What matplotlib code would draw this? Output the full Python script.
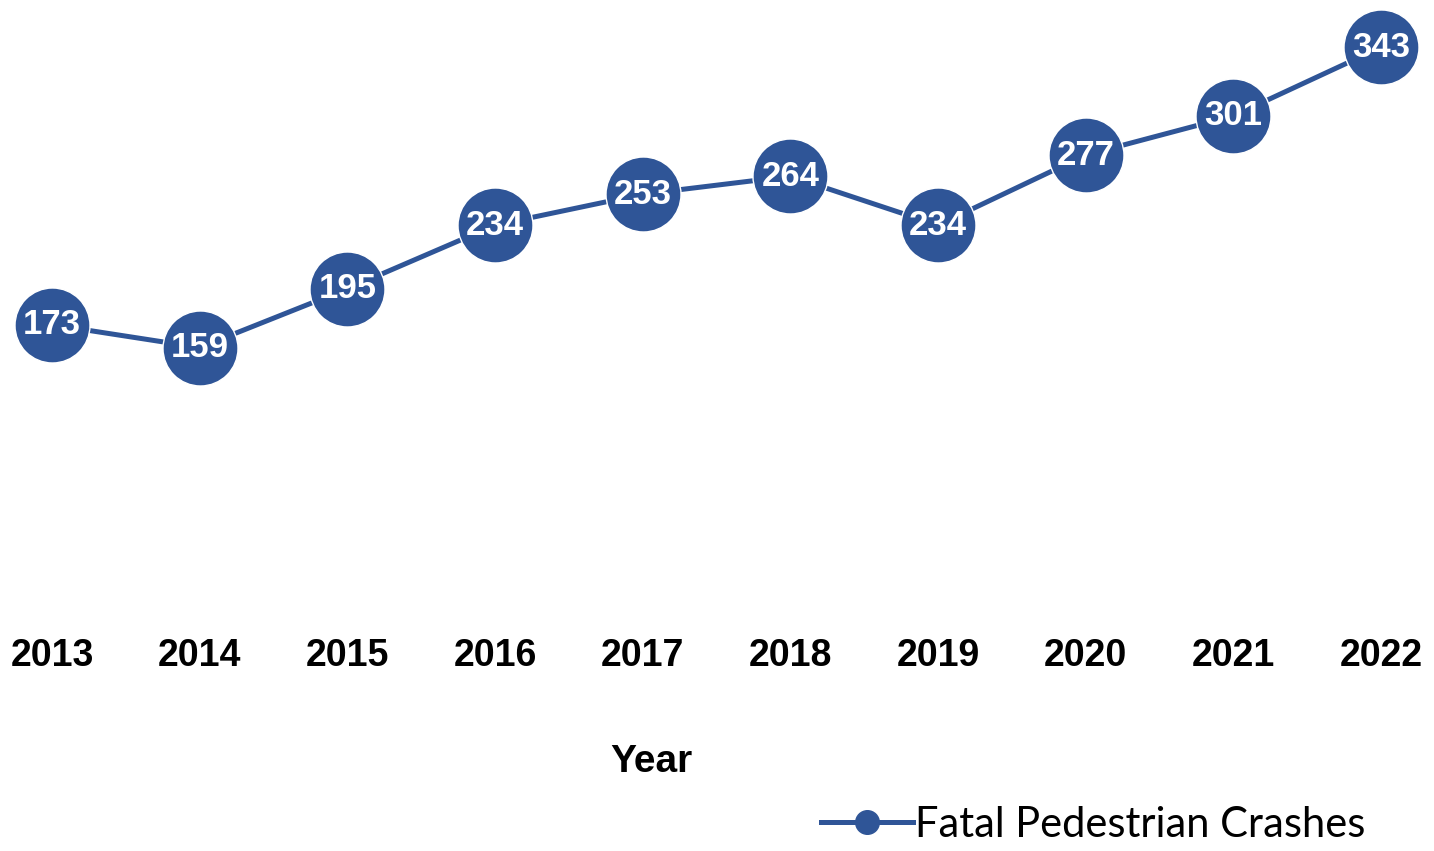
import matplotlib.pyplot as plt
from matplotlib.lines import Line2D

years = ["2013", "2014", "2015", "2016", "2017", "2018", "2019", "2020", "2021", "2022"]
crashes = [173, 159, 195, 234, 253, 264, 234, 277, 301, 343]

BLUE = "#2F5597"

fig = plt.figure(figsize=(14.34, 8.51), dpi=100, facecolor="white")
# axes spans the full width; bottom edge sits at value 0
ax = fig.add_axes([0.0, 1 - 607 / 851, 1.0, 607 / 851])

xs = list(range(len(years)))
ax.plot(xs, crashes, color=BLUE, linewidth=3.6, marker="o", markersize=54,
        markerfacecolor=BLUE, markeredgecolor="white", markeredgewidth=1.0,
        clip_on=False, zorder=3)

for x, v in zip(xs, crashes):
    ax.text(x, v, str(v), ha="center", va="center", color="white",
            fontsize=25, fontweight="bold", family="Liberation Sans", zorder=4)

ax.set_xlim(-0.352, 9.359)
ax.set_ylim(0, 372)
ax.set_xticks(xs)
ax.set_xticklabels(years, fontsize=27, fontweight="bold", family="Liberation Sans")
ax.tick_params(axis="x", length=0, pad=22)
ax.set_yticks([])
for s in ax.spines.values():
    s.set_visible(False)

fig.text(651 / 1434, 1 - 762 / 851, "Year", ha="center", va="center",
         fontsize=28, fontweight="bold", family="Liberation Sans")

handle = Line2D([], [], color=BLUE, linewidth=3.6, marker="o", markersize=17,
                markerfacecolor=BLUE, markeredgecolor=BLUE)
fig.legend([handle], ["Fatal Pedestrian Crashes"], loc="center",
           bbox_to_anchor=(1093 / 1434, 1 - 825 / 851), frameon=False,
           prop={"family": "Lato", "size": 30}, handlelength=2.2,
           handletextpad=0.05, borderpad=0)

fig.savefig("out.png", dpi=100, facecolor="white")
